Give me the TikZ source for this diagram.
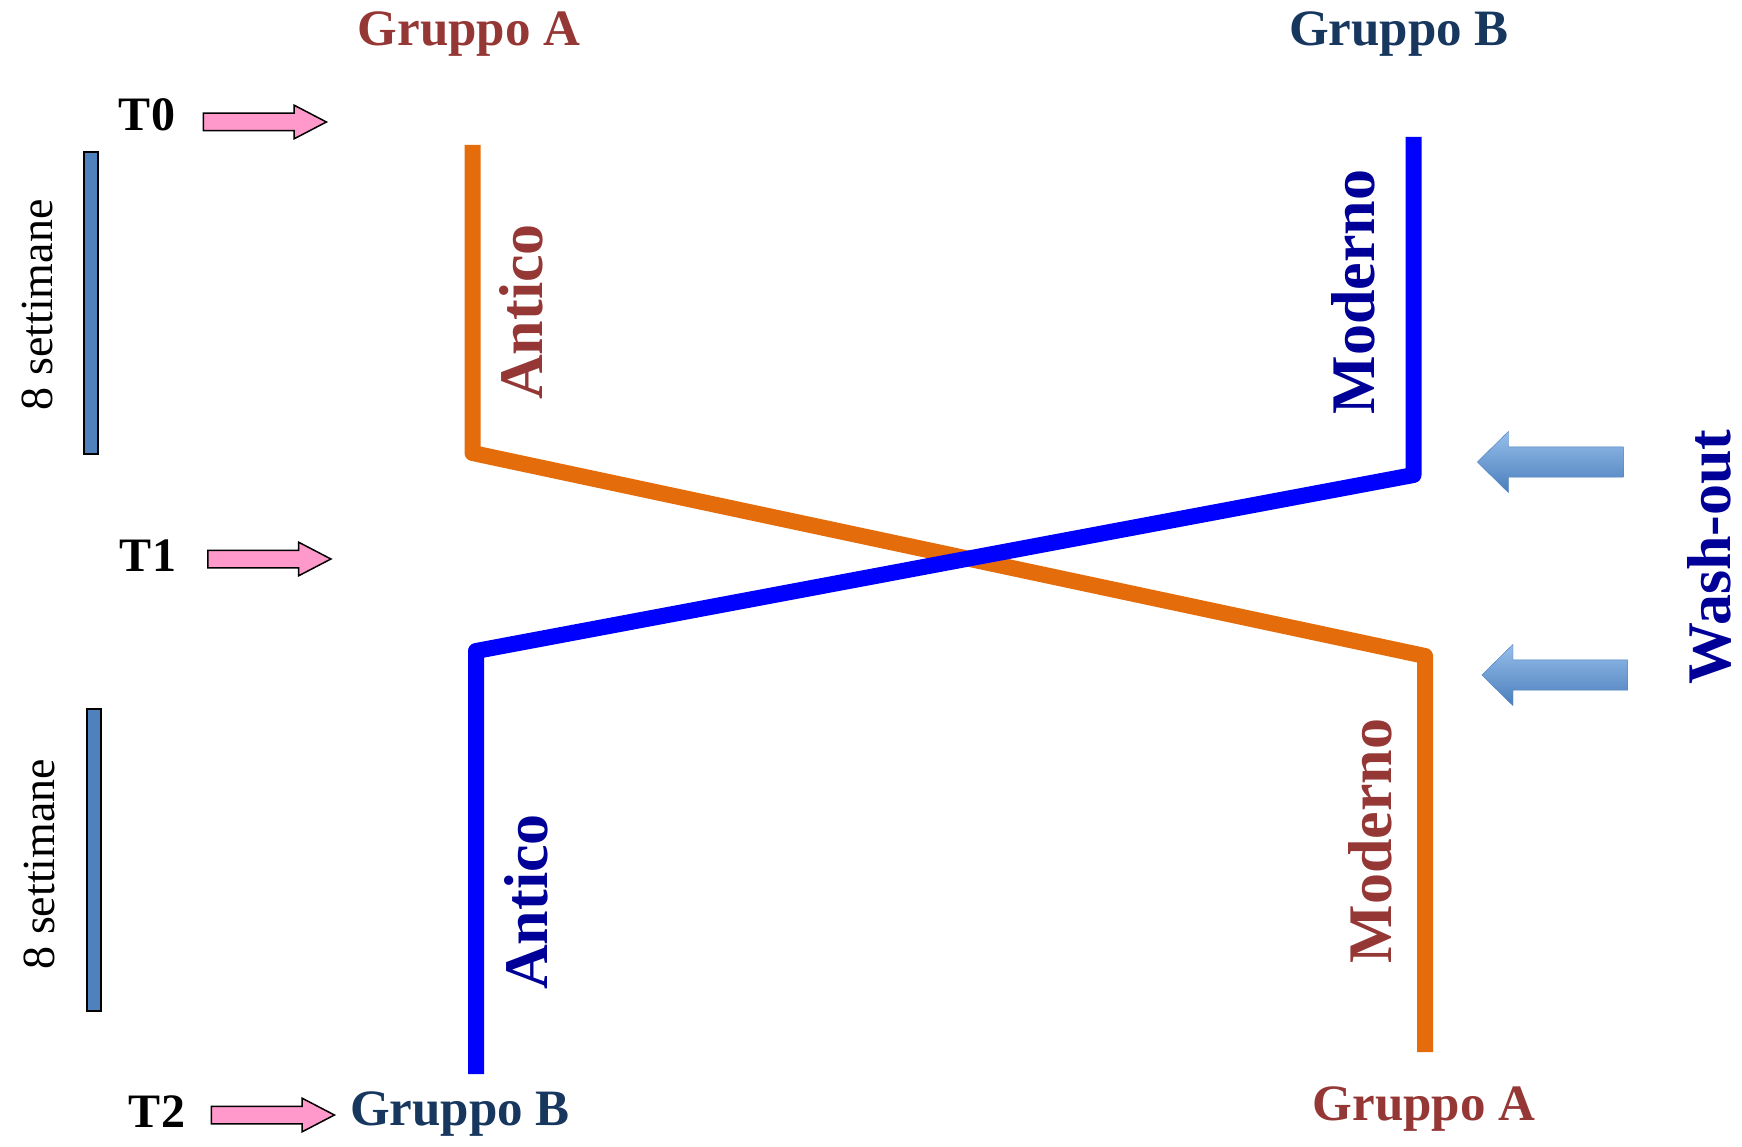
\documentclass[tikz,border=0pt]{standalone}
\usepackage{fontspec}
\setmainfont{Liberation Serif}
\usetikzlibrary{shapes.arrows}
\definecolor{grpA}{RGB}{149,55,53}
\definecolor{grpB}{RGB}{23,55,94}
\definecolor{lineorange}{RGB}{228,108,10}
\definecolor{lineblue}{RGB}{0,0,255}
\definecolor{navy}{RGB}{0,0,153}
\definecolor{pinkarrow}{RGB}{255,153,204}
\definecolor{barblue}{RGB}{79,129,189}
\definecolor{washlight}{RGB}{150,190,235}
\definecolor{washdark}{RGB}{74,126,187}
\begin{document}
\begin{tikzpicture}[
x=1pt, y=-1pt,
every node/.style={inner sep=0pt},
group/.style={font=\fontsize{51}{51}\selectfont\bfseries, anchor=base},
time/.style={font=\fontsize{48}{48}\selectfont\bfseries, anchor=base},
drug/.style={font=\fontsize{62}{62}\selectfont\bfseries, rotate=90},
weeks/.style={font=\fontsize{46}{46}\selectfont, rotate=90},
timearrow/.style={single arrow, draw=black, line width=1.5pt, fill=pinkarrow,
  inner xsep=0pt, inner ysep=8pt,
  minimum height=123pt, minimum width=32pt, single arrow head extend=8pt,
  single arrow tip angle=55},
washarrow/.style={single arrow, shape border rotate=180, draw=washdark,
  top color=washlight, bottom color=washdark, inner xsep=0pt, inner ysep=15pt,
  minimum height=146pt, minimum width=61pt, single arrow head extend=15.5pt,
  single arrow tip angle=89},
period/.style={draw=black, line width=2pt, fill=barblue,
  minimum width=14pt, minimum height=302pt},
arm/.style={line width=16pt, line join=round}
]
\useasboundingbox (0,0) rectangle (1742,1147);

% groups
\node[group, text=grpA] (grpAtop) at (469,46) {Gruppo A};
\node[group, text=grpB] (grpBtop) at (1399,46) {Gruppo B};
\node[group, text=grpB] (grpBbot) at (460,1125) {Gruppo B};
\node[group, text=grpA] (grpAbot) at (1424,1120) {Gruppo A};

% times
\node[time] (t0) at (147,131) {T0};
\node[time] (t1) at (148,571) {T1};
\node[time] (t2) at (157,1127) {T2};
\node[timearrow] (arrT0) at (256.5,122) {};
\node[timearrow] (arrT1) at (261,559) {};
\node[timearrow] (arrT2) at (264.5,1115) {};

% periods
\node[period] (per1) at (91,303) {};
\node[period] (per2) at (94,860) {};
\node[weeks] (wk1) at (37,305) {8 settimane};
\node[weeks] (wk2) at (39,864) {8 settimane};

% arms
\coordinate (aTop) at (472.5,145);
\coordinate (aMid) at (472.5,453);
\coordinate (aLow) at (1425,656);
\coordinate (aEnd) at (1425,1052);
\coordinate (bTop) at (1413.5,137);
\coordinate (bMid) at (1413.5,475);
\coordinate (bLow) at (476,651);
\coordinate (bEnd) at (476,1074);
\draw[arm, lineorange] (aTop) -- (aMid) -- (aLow) -- (aEnd);
\draw[arm, lineblue] (bTop) -- (bMid) -- (bLow) -- (bEnd);

\node[drug, text=grpA] (antA) at (521,312) {Antico};
\node[drug, text=navy] (modB) at (1353,292) {Moderno};
\node[drug, text=navy] (antB) at (526,902) {Antico};
\node[drug, text=grpA] (modA) at (1370,841) {Moderno};

% wash-out
\node[washarrow] (wash1) at (1558,462) {};
\node[washarrow] (wash2) at (1562.5,675) {};
\node[drug, text=navy] (washout) at (1709,557) {Wash-out};
\end{tikzpicture}
\end{document}
